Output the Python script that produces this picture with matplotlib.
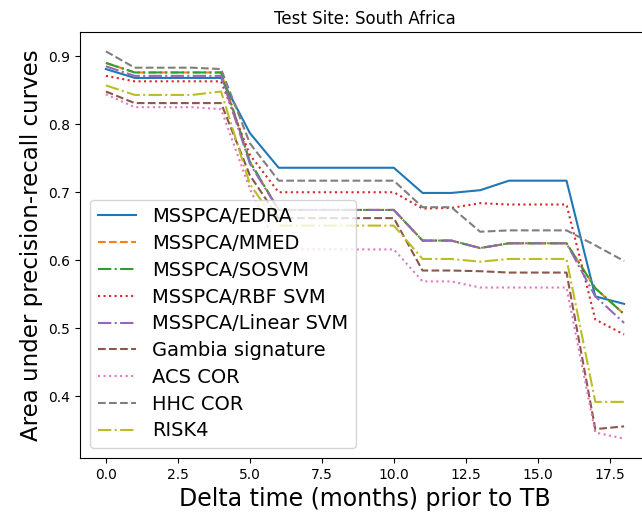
import matplotlib
matplotlib.use("Agg")
import matplotlib.pyplot as plt

months = list(range(19))

edra   = [0.881, 0.868, 0.868, 0.868, 0.868, 0.787, 0.736, 0.736, 0.736, 0.736, 0.736,
          0.699, 0.699, 0.703, 0.717, 0.717, 0.717, 0.547, 0.536]
mmed   = [0.890, 0.876, 0.876, 0.876, 0.876, 0.745, 0.674, 0.674, 0.674, 0.674, 0.674,
          0.629, 0.629, 0.618, 0.625, 0.625, 0.625, 0.559, 0.521]
sosvm  = [0.890, 0.876, 0.876, 0.876, 0.876, 0.745, 0.674, 0.674, 0.674, 0.674, 0.674,
          0.629, 0.629, 0.618, 0.625, 0.625, 0.625, 0.559, 0.521]
rbf    = [0.871, 0.863, 0.863, 0.863, 0.863, 0.755, 0.700, 0.700, 0.700, 0.700, 0.700,
          0.676, 0.677, 0.684, 0.682, 0.682, 0.682, 0.513, 0.491]
linsvm = [0.885, 0.871, 0.871, 0.871, 0.871, 0.742, 0.674, 0.674, 0.674, 0.674, 0.674,
          0.629, 0.629, 0.618, 0.625, 0.625, 0.625, 0.547, 0.508]
gambia = [0.848, 0.831, 0.831, 0.831, 0.831, 0.725, 0.662, 0.662, 0.662, 0.662, 0.662,
          0.585, 0.585, 0.584, 0.582, 0.582, 0.582, 0.352, 0.356]
acs    = [0.844, 0.825, 0.825, 0.825, 0.822, 0.705, 0.616, 0.616, 0.616, 0.616, 0.616,
          0.569, 0.569, 0.560, 0.560, 0.560, 0.560, 0.347, 0.338]
hhc    = [0.907, 0.883, 0.883, 0.883, 0.881, 0.772, 0.717, 0.717, 0.717, 0.717, 0.717,
          0.678, 0.678, 0.642, 0.644, 0.644, 0.644, 0.622, 0.599]
risk4  = [0.857, 0.843, 0.843, 0.843, 0.848, 0.712, 0.651, 0.651, 0.651, 0.651, 0.651,
          0.602, 0.602, 0.598, 0.602, 0.602, 0.602, 0.392, 0.392]

names = ["MSSPCA/EDRA", "MSSPCA/MMED", "MSSPCA/SOSVM", "MSSPCA/RBF SVM",
         "MSSPCA/Linear SVM", "Gambia signature", "ACS COR", "HHC COR", "RISK4"]
series = [edra, mmed, sosvm, rbf, linsvm, gambia, acs, hhc, risk4]
styles = ["-", "--", "-.", ":", "-.", "--", ":", "--", "-."]

fig = plt.figure(figsize=(6.42, 5.18), dpi=100)
ax = fig.add_axes([80 / 642, 60 / 518, 570 / 642, 426 / 518])

for name, vals, ls in zip(names, series, styles):
    ax.plot(months, vals, linestyle=ls, label=name)

ax.set_title("Test Site: South Africa", fontsize=12)
ax.set_xlabel("Delta time (months) prior to TB", fontsize=17)
ax.set_ylabel("Area under precision-recall curves", fontsize=16.5)
ax.legend(loc="lower left", fontsize=14, labelspacing=0.4)

fig.savefig("out.png", dpi=100)
